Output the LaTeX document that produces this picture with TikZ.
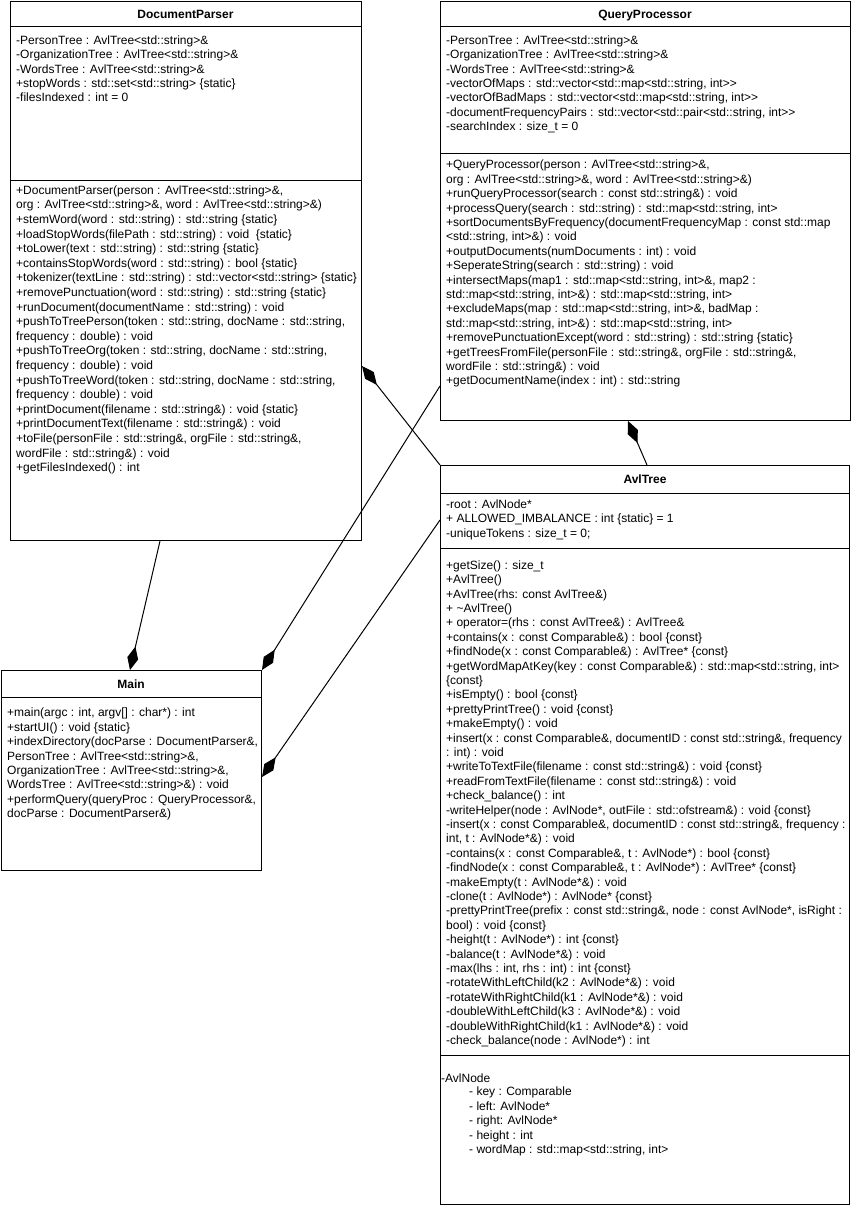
\documentclass[tikz,border=0pt]{standalone}
\usepackage{fontspec}
\setmainfont{Liberation Sans}[Ligatures=TeXOff]
\usetikzlibrary{arrows.meta,calc}

\tikzset{
  umlbox/.style={draw=black, line width=1pt, rectangle, inner sep=0pt, anchor=north west},
  sep/.style={draw=black, line width=1pt},
  % placed by the baseline of the first line
  txt/.style={font=\fontsize{12}{14.4}\selectfont, align=left, inner sep=0pt,
    anchor=north west, yshift=10.08pt, execute at begin node=\strut},
  title/.style={font=\fontsize{12}{14.4}\selectfont\bfseries, inner sep=0pt, anchor=base},
  comp/.style={draw=black, line width=1pt, -{Diamond[length=24pt,width=11pt]}}
}

\begin{document}
\begin{tikzpicture}[x=1pt,y=-1pt]
\useasboundingbox (0,0) rectangle (851,1206);
\fill[white] (0,0) rectangle (851,1206);

% ---------- class boxes ----------
\node[umlbox, minimum width=351pt, minimum height=539pt] (dp) at (10,1) {};
\node[umlbox, minimum width=410pt, minimum height=419pt] (qp) at (440,1) {};
\node[umlbox, minimum width=260pt, minimum height=200pt] (main) at (1,670) {};
\node[umlbox, minimum width=409pt, minimum height=739pt] (avl) at (440,465) {};

% compartment separators
\draw[sep] ($(dp.north west)+(0,26)$) -- ($(dp.north east)+(0,26)$);
\draw[sep] ($(dp.north west)+(0,180)$) -- ($(dp.north east)+(0,180)$);
\draw[sep] ($(qp.north west)+(0,26)$) -- ($(qp.north east)+(0,26)$);
\draw[sep] ($(qp.north west)+(0,153)$) -- ($(qp.north east)+(0,153)$);
\draw[sep] ($(main.north west)+(0,27)$) -- ($(main.north east)+(0,27)$);
\draw[sep] ($(avl.north west)+(0,28)$) -- ($(avl.north east)+(0,28)$);
\draw[sep] ($(avl.north west)+(0,83)$) -- ($(avl.north east)+(0,83)$);
\draw[sep] ($(avl.north west)+(0,590)$) -- ($(avl.north east)+(0,590)$);

% ---------- DocumentParser ----------
\node[title] (dpname) at (185.5,19) {DocumentParser};
\node[txt] (dpattr) at (16,45.5) {-PersonTree : AvlTree<std::string>\&\\
-OrganizationTree : AvlTree<std::string>\&\\
-WordsTree : AvlTree<std::string>\&\\
+stopWords : std::set<std::string> \{static\}\\
-filesIndexed : int = 0};
\node[txt, font=\fontsize{12}{14.6}\selectfont] (dpops) at (16,195.5) {+DocumentParser(person : AvlTree<std::string>\&,\\
org : AvlTree<std::string>\&, word : AvlTree<std::string>\&)\\
+stemWord(word : std::string) : std::string \{static\}\\
+loadStopWords(filePath : std::string) : void\ \ \{static\}\\
+toLower(text : std::string) : std::string \{static\}\\
+containsStopWords(word : std::string) : bool \{static\}\\
+tokenizer(textLine : std::string) : std::vector<std::string> \{static\}\\
+removePunctuation(word : std::string) : std::string \{static\}\\
+runDocument(documentName : std::string) : void\\
+pushToTreePerson(token : std::string, docName : std::string,\\
frequency : double) : void\\
+pushToTreeOrg(token : std::string, docName : std::string,\\
frequency : double) : void\\
+pushToTreeWord(token : std::string, docName : std::string,\\
frequency : double) : void\\
+printDocument(filename : std::string\&) : void \{static\}\\
+printDocumentText(filename : std::string\&) : void\\
+toFile(personFile : std::string\&, orgFile : std::string\&,\\
wordFile : std::string\&) : void\\
+getFilesIndexed() : int};

% ---------- QueryProcessor ----------
\node[title] (qpname) at (645,19) {QueryProcessor};
\node[txt] (qpattr) at (446,45.5) {-PersonTree : AvlTree<std::string>\&\\
-OrganizationTree : AvlTree<std::string>\&\\
-WordsTree : AvlTree<std::string>\&\\
-vectorOfMaps : std::vector<std::map<std::string, int>{}>\\
-vectorOfBadMaps : std::vector<std::map<std::string, int>{}>\\
-documentFrequencyPairs : std::vector<std::pair<std::string, int>{}>\\
-searchIndex : size\_t = 0};
\node[txt] (qpops) at (446,170) {+QueryProcessor(person : AvlTree<std::string>\&,\\
org : AvlTree<std::string>\&, word : AvlTree<std::string>\&)\\
+runQueryProcessor(search : const std::string\&) : void\\
+processQuery(search : std::string) : std::map<std::string, int>\\
+sortDocumentsByFrequency(documentFrequencyMap : const std::map\\
<std::string, int>\&) : void\\
+outputDocuments(numDocuments : int) : void\\
+SeperateString(search : std::string) : void\\
+intersectMaps(map1 : std::map<std::string, int>\&, map2 :\\
std::map<std::string, int>\&) : std::map<std::string, int>\\
+excludeMaps(map : std::map<std::string, int>\&, badMap :\\
std::map<std::string, int>\&) : std::map<std::string, int>\\
+removePunctuationExcept(word : std::string) : std::string \{static\}\\
+getTreesFromFile(personFile : std::string\&, orgFile : std::string\&,\\
wordFile : std::string\&) : void\\
+getDocumentName(index : int) : std::string};

% ---------- Main ----------
\node[title] (mainname) at (131,688) {Main};
\node[txt] (mainops) at (7,718) {+main(argc : int, argv[] : char*) : int\\
+startUI() : void \{static\}\\
+indexDirectory(docParse : DocumentParser\&,\\
PersonTree : AvlTree<std::string>\&,\\
OrganizationTree : AvlTree<std::string>\&,\\
WordsTree : AvlTree<std::string>\&) : void\\
+performQuery(queryProc : QueryProcessor\&,\\
docParse : DocumentParser\&)};

% ---------- AvlTree ----------
\node[title] (avlname) at (645,483) {AvlTree};
\node[txt] (avlattr) at (446,509.5) {-root : AvlNode*\\
+ ALLOWED\_IMBALANCE : int \{static\} = 1\\
-uniqueTokens : size\_t = 0;};
\node[txt] (avlops) at (446,570.5) {+getSize() : size\_t\\
+AvlTree()\\
+AvlTree(rhs: const AvlTree\&)\\
+ \textasciitilde AvlTree()\\
+ operator=(rhs : const AvlTree\&) : AvlTree\&\\
+contains(x : const Comparable\&) : bool \{const\}\\
+findNode(x : const Comparable\&) : AvlTree* \{const\}\\
+getWordMapAtKey(key : const Comparable\&) : std::map<std::string, int>\\
\{const\}\\
+isEmpty() : bool \{const\}\\
+prettyPrintTree() : void \{const\}\\
+makeEmpty() : void\\
+insert(x : const Comparable\&, documentID : const std::string\&, frequency\\
: int) : void\\
+writeToTextFile(filename : const std::string\&) : void \{const\}\\
+readFromTextFile(filename : const std::string\&) : void\\
+check\_balance() : int\\
-writeHelper(node : AvlNode*, outFile : std::ofstream\&) : void \{const\}\\
-insert(x : const Comparable\&, documentID : const std::string\&, frequency :\\
int, t : AvlNode*\&) : void\\
-contains(x : const Comparable\&, t : AvlNode*) : bool \{const\}\\
-findNode(x : const Comparable\&, t : AvlNode*) : AvlTree* \{const\}\\
-makeEmpty(t : AvlNode*\&) : void\\
-clone(t : AvlNode*) : AvlNode* \{const\}\\
-prettyPrintTree(prefix : const std::string\&, node : const AvlNode*, isRight :\\
bool) : void \{const\}\\
-height(t : AvlNode*) : int \{const\}\\
-balance(t : AvlNode*\&) : void\\
-max(lhs : int, rhs : int) : int \{const\}\\
-rotateWithLeftChild(k2 : AvlNode*\&) : void\\
-rotateWithRightChild(k1 : AvlNode*\&) : void\\
-doubleWithLeftChild(k3 : AvlNode*\&) : void\\
-doubleWithRightChild(k1 : AvlNode*\&) : void\\
-check\_balance(node : AvlNode*) : int};
\node[txt] (avlnode) at (441,1082.5) {-AvlNode};
\node[txt] (avlnodefields) at (469,1097) {- key : Comparable\\
- left: AvlNode*\\
- right: AvlNode*\\
- height : int\\
- wordMap : std::map<std::string, int>};

% ---------- composition connectors ----------
\draw[comp] ($(dp.south west)+(150,0)$) -- ($(main.north west)+(129,0)$);
\draw[comp] (avl.north west) -- ($(dp.north east)+(0,365)$);
\draw[comp] ($(qp.north west)+(0,385)$) -- (main.north east);
\draw[comp] ($(avl.north west)+(0,55)$) -- ($(main.north east)+(0,107)$);
\draw[comp] ($(avl.north west)+(207,0)$) -- ($(qp.south west)+(188,0)$);
\end{tikzpicture}
\end{document}
